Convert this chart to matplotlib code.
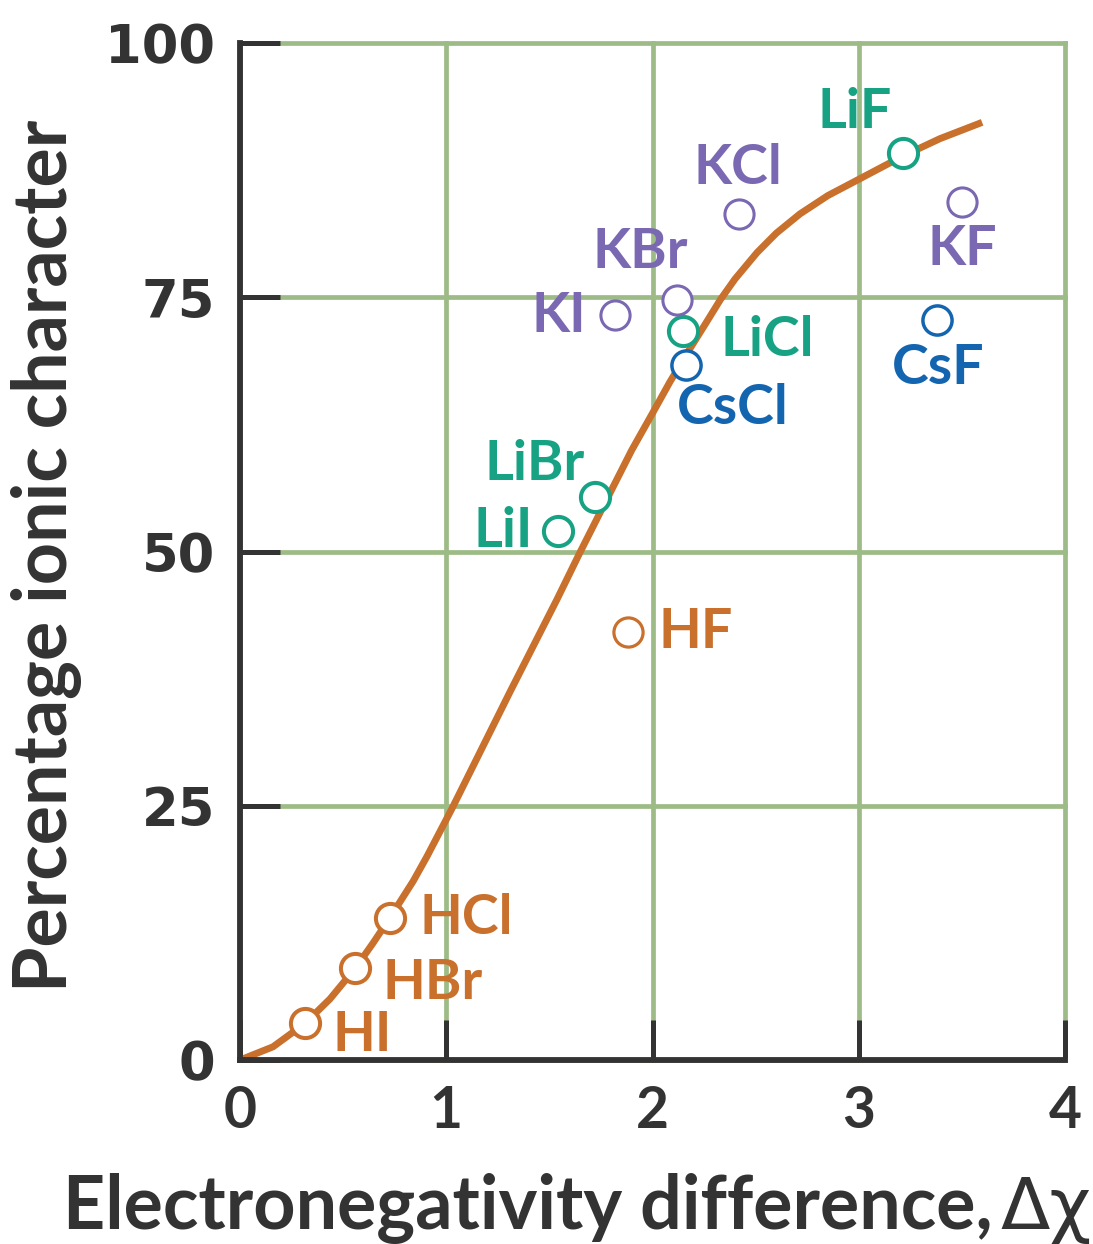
import matplotlib

matplotlib.use("Agg")
import matplotlib.pyplot as plt

# points
curve_dx = [0.0, 0.16, 0.315, 0.436, 0.558, 0.645, 0.727, 0.84, 0.906, 1.027, 1.309, 1.537,
            1.648, 1.8, 1.9, 2.0, 2.085, 2.18, 2.26, 2.33, 2.4, 2.507, 2.6, 2.715, 2.85,
            3.0, 3.215, 3.394, 3.598]
curve_pct = [0.0, 1.3, 3.6, 6.0, 9.0, 11.5, 14.0, 17.6, 20.0, 24.7, 36.2, 45.3,
             49.9, 56.0, 60.0, 63.6, 66.7, 69.9, 72.5, 74.8, 76.8, 79.4, 81.3, 83.2, 85.0,
             86.6, 88.9, 90.6, 92.2]

# compounds: name, electronegativity difference, percentage ionic character
h_names = ["HI", "HBr", "HCl", "HF"]
h_dx = [0.315, 0.558, 0.727, 1.88]
h_pct = [3.6, 9.0, 14.0, 42.1]

li_names = ["LiI", "LiBr", "LiCl", "LiF"]
li_dx = [1.54, 1.72, 2.15, 3.215]
li_pct = [52.0, 55.4, 71.7, 89.2]

k_names = ["KI", "KBr", "KCl", "KF"]
k_dx = [1.82, 2.12, 2.42, 3.50]
k_pct = [73.3, 74.7, 83.2, 84.4]

cs_names = ["CsCl", "CsF"]
cs_dx = [2.16, 3.38]
cs_pct = [68.3, 72.8]

ORANGE = "#c8702c"
TEAL = "#17a283"
PURPLE = "#7a68b2"
BLUE = "#1465b0"
DARK = "#333333"
GRID = "#9dbb86"

FONT = ["Lato", "DejaVu Sans"]

fig = plt.figure(figsize=(10.93, 12.44), dpi=100)
ax = fig.add_axes([0.2196, 0.1479, 0.7548, 0.8175])

ax.set_xlim(0, 4)
ax.set_ylim(0, 100)
ax.set_xticks([0, 1, 2, 3, 4])
ax.set_yticks([0, 25, 50, 75, 100])

ax.grid(True, color=GRID, lw=3.4)
for gl in ax.get_xgridlines() + ax.get_ygridlines():
    gl.set_clip_on(False)

for side in ["top", "right"]:
    ax.spines[side].set_visible(False)
for side in ["left", "bottom"]:
    ax.spines[side].set_color(DARK)
    ax.spines[side].set_linewidth(4.2)
    ax.spines[side].set_zorder(5)

ax.tick_params(direction="in", length=29, width=3.6, color=DARK, pad=18)
for lab in ax.get_yticklabels():
    lab.set_fontfamily("DejaVu Sans")
    lab.set_fontweight("bold")
    lab.set_fontsize(38)
    lab.set_color(DARK)
for lab in ax.get_xticklabels():
    lab.set_fontfamily(FONT)
    lab.set_fontweight("bold")
    lab.set_fontsize(41)
    lab.set_color(DARK)

ax.plot(curve_dx, curve_pct, color=ORANGE, lw=5.0, solid_capstyle="butt",
        solid_joinstyle="round", zorder=3)

mk = dict(ls="none", marker="o", markersize=21, markerfacecolor="white", zorder=4, clip_on=False)
ax.plot(h_dx[:3], h_pct[:3], markeredgecolor=ORANGE, markeredgewidth=2.9, **mk)
ax.plot(h_dx[3:], h_pct[3:], markeredgecolor=ORANGE, markeredgewidth=2.3, **mk)
ax.plot(li_dx, li_pct, markeredgecolor=TEAL, markeredgewidth=2.9, **mk)
ax.plot(k_dx, k_pct, markeredgecolor=PURPLE, markeredgewidth=2.2, **mk)
ax.plot(cs_dx, cs_pct, markeredgecolor=BLUE, markeredgewidth=2.5, **mk)

label_pos = {
    "HI": (0.45, 2.5, "left"),
    "HBr": (0.69, 7.6, "left"),
    "HCl": (0.87, 14.0, "left"),
    "HF": (2.03, 42.1, "left"),
    "LiI": (1.42, 52.0, "right"),
    "LiBr": (1.67, 58.6, "right"),
    "LiCl": (2.33, 70.8, "left"),
    "LiF": (2.98, 93.2, "center"),
    "KI": (1.68, 73.2, "right"),
    "KBr": (1.94, 79.5, "center"),
    "KCl": (2.415, 87.7, "center"),
    "KF": (3.50, 79.7, "center"),
    "CsCl": (2.12, 64.1, "left"),
    "CsF": (3.385, 68.0, "center"),
}
groups = [(h_names, ORANGE), (li_names, TEAL), (k_names, PURPLE), (cs_names, BLUE)]
for names, color in groups:
    for name in names:
        x, y, ha = label_pos[name]
        ax.text(x, y, name, color=color, fontsize=40, fontweight="bold",
                family=FONT, ha=ha, va="center", zorder=6)

xl = fig.text(0.058, 0.012, "Electronegativity difference,", fontsize=53,
              fontweight="bold", family=FONT, color=DARK, ha="left", va="baseline")
ax.annotate("Δχ", xy=(1, 0), xycoords=xl, xytext=(5, 0), textcoords="offset points",
            fontsize=52, family="DejaVu Sans", color=DARK, ha="left", va="bottom",
            annotation_clip=False)

fig.text(0.010, 0.553, "Percentage ionic character", fontsize=53, fontweight="bold",
         family=FONT, color=DARK, rotation=90, ha="left", va="center")

fig.savefig("out.png", dpi=100)
